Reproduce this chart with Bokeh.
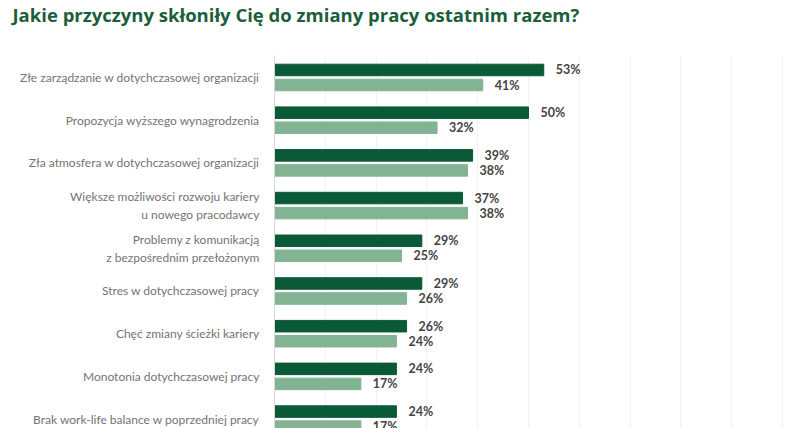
from bokeh.plotting import figure
from bokeh.models import ColumnDataSource, Range1d, FixedTicker
from bokeh.core.properties import value
from bokeh.embed import file_html
from bokeh.resources import INLINE

title = "Jakie przyczyny skłoniły Cię do zmiany pracy ostatnim razem?"
categories = [
    "Złe zarządzanie w dotychczasowej organizacji",
    "Propozycja wyższego wynagrodzenia",
    "Zła atmosfera w dotychczasowej organizacji",
    "Większe możliwości rozwoju kariery\nu nowego pracodawcy",
    "Problemy z komunikacją\nz bezpośrednim przełożonym",
    "Stres w dotychczasowej pracy",
    "Chęć zmiany ścieżki kariery",
    "Monotonia dotychczasowej pracy",
    "Brak work-life balance w poprzedniej pracy",
]
series_a = [53, 50, 39, 37, 29, 29, 26, 24, 24]
series_b = [41, 32, 38, 38, 25, 26, 24, 17, 17]

DARK = "#0b5a37"
LIGHT = "#82b494"
OFF = 0.176
BAR_H = 0.27

W, H = 796, 428
TOP, LEFT, RIGHT = 55, 274, 4
PX_UNIT = 42.7
frame_h = H - TOP
y_top = -0.515
y_bot = y_top + frame_h / PX_UNIT
x_end = (W - LEFT - RIGHT) / 5.08

idx = list(range(len(categories)))
src_a = ColumnDataSource(dict(y=[i - OFF for i in idx], v=series_a,
                              lbl=[f"{v}%" for v in series_a]))
src_b = ColumnDataSource(dict(y=[i + OFF for i in idx], v=series_b,
                              lbl=[f"{v}%" for v in series_b]))

p = figure(width=W, height=H, output_backend="svg", toolbar_location=None,
           x_range=Range1d(0, x_end), y_range=Range1d(y_bot, y_top),
           min_border_left=LEFT, min_border_right=RIGHT, min_border_top=TOP,
           min_border_bottom=0, title=title + "\n")
p.outline_line_color = None
p.background_fill_color = "white"
p.border_fill_color = "white"

p.title.text_font = "Open Sans"
p.title.text_font_size = "18.5px"
p.title.text_font_style = "bold"
p.title.text_color = "#1b5e3b"
p.title.align = "left"
p.title.vertical_align = "top"
p.title.text_line_height = 1.0
p.title.offset = -262
p.title.standoff = 3

p.hbar(y="y", left=0, right="v", height=BAR_H, source=src_a, color=DARK)
p.hbar(y="y", left=0, right="v", height=BAR_H, source=src_b, color=LIGHT)

for src in (src_a, src_b):
    p.text(x="v", y="y", text="lbl", source=src, x_offset=12,
           text_baseline="middle", text_align="left",
           text_font=value("Lato"), text_font_style="bold",
           text_font_size="12.5px", text_color="#444444")

p.xaxis.visible = False
p.xgrid.ticker = FixedTicker(ticks=list(range(10, 101, 10)))
p.xgrid.grid_line_color = "#f2f2f2"
p.ygrid.visible = False

p.yaxis.ticker = FixedTicker(ticks=idx)
p.yaxis.major_label_overrides = {i: c for i, c in zip(idx, categories)}
p.yaxis.axis_line_color = "#d8d8d8"
p.yaxis.major_tick_line_color = None
p.yaxis.minor_tick_line_color = None
p.yaxis.major_label_text_font = "Lato"
p.yaxis.major_label_text_font_size = "12px"
p.yaxis.major_label_text_color = "#747474"
p.yaxis.major_label_standoff = 9

open("out.html", "w").write(file_html(p, INLINE))
